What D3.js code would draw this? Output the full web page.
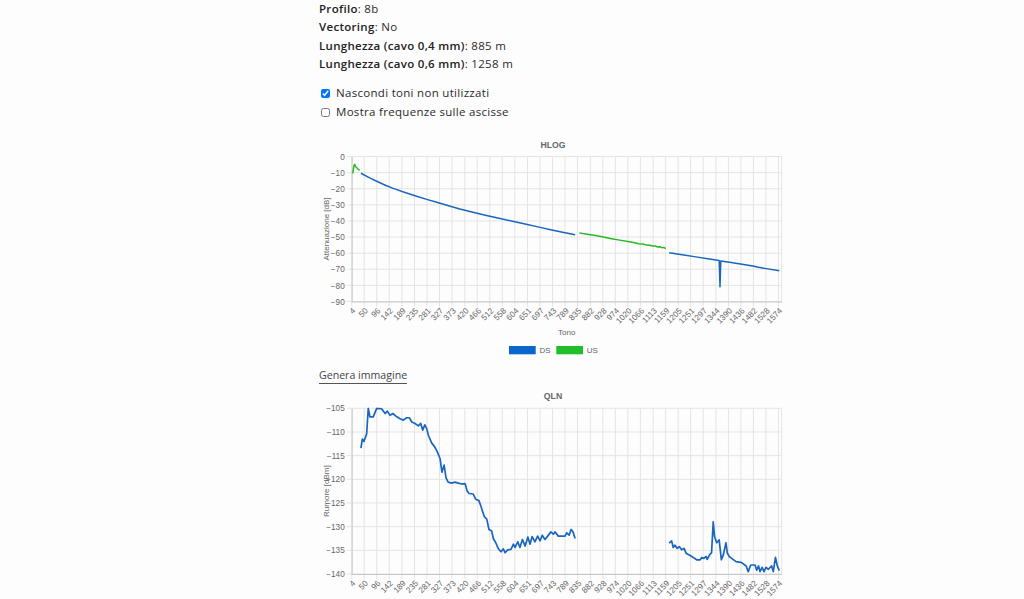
<!DOCTYPE html>
<html>
<head>
<meta charset="utf-8">
<script src="https://cdn.jsdelivr.net/npm/d3@7"></script>
<style>
    body { margin: 0; background: #fdfdfd; width: 1024px; height: 599px; overflow: hidden; position: relative; font-family: "Open Sans", sans-serif; color: #2a2a2a; }
    .info { position: absolute; left: 319px; font-size: 11.5px; letter-spacing: 0.3px; line-height: 14px; white-space: nowrap; }
    .info b { font-weight: 600; color: #222; }
    .chk { position: absolute; left: 320px; font-size: 11.5px; letter-spacing: 0.3px; line-height: 14px; white-space: nowrap; }
    .chk input { width: 9px; height: 9px; margin: 0 6px 0 1px; vertical-align: -1px; }
    .btn { position: absolute; left: 319px; top: 368px; font-size: 10.6px; color: #444; border-bottom: 1px solid #555; padding-bottom: 1px; line-height: 14px; white-space: nowrap; }
    svg { position: absolute; left: 0; top: 0; }
</style>
</head>
<body>
<div class="info" style="top:1.5px"><b>Profilo</b>: 8b</div>
<div class="info" style="top:20px"><b>Vectoring</b>: No</div>
<div class="info" style="top:38.5px"><b>Lunghezza (cavo 0,4 mm)</b>: 885 m</div>
<div class="info" style="top:57px"><b>Lunghezza (cavo 0,6 mm)</b>: 1258 m</div>
<div class="chk" style="top:85.5px"><input type="checkbox" checked>Nascondi toni non utilizzati</div>
<div class="chk" style="top:104.5px"><input type="checkbox">Mostra frequenze sulle ascisse</div>
<div class="btn">Genera immagine</div>
<svg id="chart" width="1024" height="599"></svg>
<script>
// tick labels on the tone axis
const xTickLabels = [4, 50, 96, 142, 189, 235, 281, 327, 373, 420, 466, 512, 558, 604, 651, 697,
    743, 789, 835, 882, 928, 974, 1020, 1066, 1113, 1159, 1205, 1251, 1297, 1344, 1390, 1436,
    1482, 1528, 1574];
const hlogYTicks = [0, -10, -20, -30, -40, -50, -60, -70, -80, -90];
const qlnYTicks = [-105, -110, -115, -120, -125, -130, -135, -140];

// HLOG [tone, dB]
const hlogUs0 = [[8, -10.5], [12, -6], [15, -4.8], [18, -6.2], [22, -6.8], [26, -7.6], [30, -8.2], [33, -8.6]];
const hlogDs1 = [[38, -10.4], [70, -13.3], [100, -15.7], [130, -18], [157, -19.8], [200, -22.3],
    [240, -24.5], [280, -26.6], [320, -28.6], [360, -30.6], [402, -32.6], [450, -34.6], [500, -36.6],
    [550, -38.5], [600, -40.4], [650, -42.2], [697, -44], [740, -45.6], [780, -47], [826, -48.6]];
const hlogUs1 = [[841, -47.4], [870, -48.2], [900, -49.1], [930, -50], [960, -51], [990, -51.9],
    [1020, -52.8], [1045, -53.5], [1060, -54.1], [1075, -54.3], [1090, -55], [1100, -55.1],
    [1110, -55.6], [1120, -55.5], [1130, -56.2], [1138, -56], [1145, -56.6], [1152, -56.4], [1159, -57.2]];
const hlogDs2 = [[1172, -59.7], [1220, -61], [1270, -62.3], [1320, -63.6], [1356, -64.5],
    [1359, -80.8], [1362, -64.8], [1400, -65.8], [1440, -66.9], [1480, -68], [1500, -68.8],
    [1530, -69.6], [1577, -70.9]];

// QLN [tone, dBm]
const qlnDs1 = [[38, -113.4], [43, -111.5], [49, -112], [59, -110.4], [65, -105], [71, -106.8],
    [83, -106.8], [96, -105], [114, -105.1], [127, -106.1], [135, -105.6], [145, -106.5], [155, -106.1],
    [170, -106.8], [182, -107.2], [194, -107.5], [206, -107], [216, -107], [225, -107.9], [237, -108.2],
    [249, -108.7], [258, -108.2], [265, -109.6], [273, -108.5], [280, -109.3], [286, -110.7],
    [298, -112.3], [310, -113.2], [319, -114.2], [329, -115.6], [336, -118.5], [344, -117],
    [351, -119.7], [359, -120.6], [372, -120.8], [384, -120.6], [396, -120.8], [409, -121],
    [421, -120.9], [429, -122.5], [436, -123], [451, -123.1], [460, -124.2], [472, -124.5],
    [480, -125.8], [492, -127.9], [501, -128.4], [509, -130.6], [519, -130.9], [525, -132.5],
    [534, -133.4], [543, -134.6], [553, -135.3], [562, -134.7], [568, -135.5], [578, -134.9],
    [590, -134.8], [599, -133.7], [605, -134.4], [615, -133.2], [623, -134.4], [632, -132.7],
    [642, -134.1], [652, -132.2], [660, -133.7], [668, -132.1], [678, -133.2], [688, -132],
    [697, -133], [705, -131.8], [715, -132.7], [725, -132], [737, -131.1], [746, -131.6],
    [752, -131.1], [764, -132], [777, -132], [789, -132], [795, -131.3], [804, -131.8],
    [811, -130.6], [818, -131.1], [826, -132.5]];
const qlnDs2 = [[1172, -133.5], [1181, -133], [1187, -134.4], [1193, -133.9], [1202, -134.6],
    [1209, -134.2], [1218, -134.9], [1227, -134.6], [1234, -135.6], [1246, -136], [1261, -136.5],
    [1273, -137], [1286, -137], [1292, -136.5], [1300, -136.7], [1308, -136.3], [1312, -136.9],
    [1320, -136], [1328, -135.5], [1334, -129], [1339, -132.1], [1347, -133.4], [1356, -132.8],
    [1364, -137], [1371, -136], [1381, -133.4], [1386, -135.6], [1393, -136.3], [1402, -136.7],
    [1418, -137.4], [1439, -137.6], [1455, -138.3], [1463, -139.5], [1472, -138.1], [1488, -138.1],
    [1494, -139.2], [1501, -138.3], [1506, -139.5], [1514, -138.6], [1521, -139.5], [1528, -138.6],
    [1537, -139], [1549, -138.3], [1555, -139.5], [1563, -136.5], [1570, -138.3], [1577, -139.3]];

const DS_COLOR = "#1a66bf";
const US_COLOR = "#27b827";
const GRID = "#e4e4e4";
const TXT = "#666";
const FONT = "Liberation Sans, Arial, sans-serif";

const svg = d3.select("#chart");
const left = 351.7, right = 781.7;
const x = d3.scaleLinear().domain([4, 1586]).range([left, right]);

function drawChart(cfg) {
    let y = d3.scaleLinear().domain(cfg.yDomain).range([cfg.bottom, cfg.top]);
    let g = svg.append("g");

    // grid
    g.selectAll(".hg").data(cfg.yTicks).enter().append("line")
        .attr("x1", left - 5).attr("x2", right)
        .attr("y1", d => y(d)).attr("y2", d => y(d))
        .attr("stroke", GRID).attr("stroke-width", 1);
    g.selectAll(".vg").data(xTickLabels).enter().append("line")
        .attr("x1", d => x(d)).attr("x2", d => x(d))
        .attr("y1", cfg.top).attr("y2", cfg.bottom + 5)
        .attr("stroke", GRID).attr("stroke-width", 1);
    g.append("line").attr("x1", right).attr("x2", right)
        .attr("y1", cfg.top).attr("y2", cfg.bottom)
        .attr("stroke", GRID);

    // axes
    let yAxis = d3.axisLeft(y).tickValues(cfg.yTicks).tickSize(0).tickPadding(7).tickSizeOuter(0);
    let ya = g.append("g").attr("transform", "translate(" + left + ",0)").call(yAxis);
    ya.select(".domain").attr("stroke", "#c8c8c8");
    ya.selectAll("text").attr("fill", TXT).style("font-family", FONT).style("font-size", "8.2px");

    let xAxis = d3.axisBottom(x).tickValues(xTickLabels).tickFormat(d3.format("d"))
        .tickSize(0).tickSizeOuter(0);
    let xa = g.append("g").attr("transform", "translate(0," + cfg.bottom + ")").call(xAxis);
    xa.select(".domain").attr("stroke", "#c8c8c8");
    xa.selectAll("text")
        .attr("x", 0).attr("y", 0).attr("dy", "0.32em")
        .attr("transform", "translate(2,8) rotate(-45)")
        .attr("text-anchor", "end")
        .attr("fill", TXT).style("font-family", FONT).style("font-size", "8.2px");

    // titles
    g.append("text").attr("x", 553).attr("y", cfg.titleY).attr("text-anchor", "middle")
        .attr("fill", TXT).style("font-family", FONT)
        .style("font-size", "8.7px").style("font-weight", "bold").text(cfg.title);
    g.append("text")
        .attr("transform", "translate(329," + (cfg.top + cfg.bottom) / 2 + ") rotate(-90)")
        .attr("text-anchor", "middle").attr("fill", TXT)
        .style("font-family", FONT).style("font-size", "8px")
        .text(cfg.yTitle);

    // lines
    let line = d3.line().x(d => x(d[0])).y(d => y(d[1]));
    let clipId = "clip-" + cfg.title;
    g.append("clipPath").attr("id", clipId).append("rect")
        .attr("x", left).attr("y", cfg.top - 1).attr("width", right - left).attr("height", cfg.bottom - cfg.top + 1);
    cfg.series.forEach(function (s) {
        g.append("path").attr("d", line(s.data))
            .attr("fill", "none").attr("stroke", s.color)
            .attr("stroke-width", cfg.lineWidth).attr("stroke-linejoin", "round")
            .attr("clip-path", "url(#" + clipId + ")");
    });
    return g;
}

let hlog = drawChart({
    title: "HLOG", titleY: 147.5, yTitle: "Attenuazione [dB]",
    top: 156.5, bottom: 301.5, yDomain: [-90, 0], yTicks: hlogYTicks, lineWidth: 1.5,
    series: [
        { data: hlogUs0, color: US_COLOR },
        { data: hlogDs1, color: DS_COLOR },
        { data: hlogUs1, color: US_COLOR },
        { data: hlogDs2, color: DS_COLOR }
    ]
});
hlog.append("text").attr("x", (left + right) / 2).attr("y", 334.5).attr("text-anchor", "middle")
    .attr("fill", TXT).style("font-family", FONT).style("font-size", "8px").text("Tono");

// legend
const legendItems = [{ name: "DS", color: "#0a66cc" }, { name: "US", color: "#1fbf2a" }];
let lg = svg.append("g");
legendItems.forEach(function (d, i) {
    let lx = 509 + i * 47.3;
    lg.append("rect").attr("x", lx).attr("y", 346).attr("width", 26.7).attr("height", 8.3).attr("fill", d.color);
    lg.append("text").attr("x", lx + 30.5).attr("y", 353).attr("fill", TXT)
        .style("font-family", FONT).style("font-size", "8px").text(d.name);
});

drawChart({
    title: "QLN", titleY: 398.8, yTitle: "Rumore [dBm]",
    top: 408.3, bottom: 574, yDomain: [-140, -105], yTicks: qlnYTicks, lineWidth: 1.7,
    series: [
        { data: qlnDs1, color: DS_COLOR },
        { data: qlnDs2, color: DS_COLOR }
    ]
});
</script>
</body>
</html>
